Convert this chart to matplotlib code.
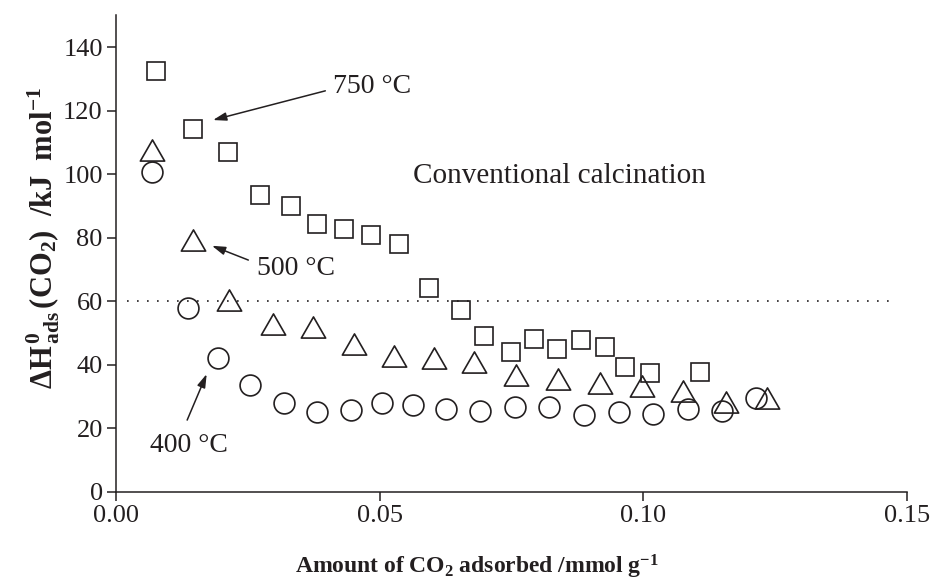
import numpy as np
import matplotlib
matplotlib.use('Agg')
import matplotlib.pyplot as plt
from matplotlib.path import Path

plt.rcParams['font.family'] = ['Liberation Serif', 'DejaVu Serif']
plt.rcParams['mathtext.fontset'] = 'custom'
plt.rcParams['mathtext.rm'] = 'Liberation Serif'
plt.rcParams['mathtext.it'] = 'Liberation Serif:italic'
plt.rcParams['mathtext.bf'] = 'Liberation Serif:bold'

# 750 C (squares)
x_750 = [0.0076, 0.0147, 0.0213, 0.0274, 0.0332, 0.0381, 0.0433, 0.0483, 0.0537, 0.0593,
         0.0654, 0.0698, 0.0749, 0.0792, 0.0837, 0.0881, 0.0927, 0.0965, 0.1013, 0.1107]
y_750 = [132.5, 114.1, 106.8, 93.3, 90.0, 84.3, 82.7, 80.7, 77.9, 64.2,
         57.2, 49.0, 43.8, 47.9, 44.8, 47.6, 45.6, 39.3, 37.2, 37.7]

# 500 C (triangles)
x_500 = [0.0068, 0.0147, 0.0215, 0.0297, 0.0374, 0.0452, 0.0528, 0.0604,
         0.0679, 0.0758, 0.0838, 0.0917, 0.0997, 0.1076, 0.1156, 0.1235]
y_500 = [107.6, 79.1, 60.3, 52.9, 51.8, 46.6, 42.8, 42.0,
         40.9, 36.8, 35.4, 34.1, 33.3, 31.8, 28.1, 29.4]

# 400 C (circles)
x_400 = [0.0068, 0.0137, 0.0194, 0.0254, 0.0318, 0.0381, 0.0445, 0.0505, 0.0564, 0.0626,
         0.0691, 0.0756, 0.0822, 0.0887, 0.0953, 0.1019, 0.1084, 0.1150, 0.1214]
y_400 = [100.7, 57.7, 42.1, 33.4, 28.0, 24.9, 25.7, 27.8, 27.2, 25.9,
         25.4, 26.7, 26.5, 24.1, 25.1, 24.4, 25.9, 25.3, 29.5]

threshold = 60
x_ticks = [0.00, 0.05, 0.10, 0.15]
y_ticks = [0, 20, 40, 60, 80, 100, 120, 140]

ink = '#231f20'

fig = plt.figure(figsize=(9.36, 5.85), dpi=100)
ax = fig.add_axes([0.1239, 0.1598, 0.8451, 0.8141])

# wide, slightly flat triangle like the original
tri = Path([(-1.15, -1), (1.15, -1), (0, 1), (-1.15, -1)], closed=True)

style = dict(ls='none', mfc='none', mec=ink, mew=1.2, clip_on=False, zorder=3)
ax.plot(x_750, y_750, marker='s', ms=13, **style)
ax.plot(x_500, y_500, marker=tri, ms=17.5, **style)
ax.plot(x_400, y_400, marker='o', ms=15, **style)

ax.axhline(threshold, xmin=0.002 / 0.15, xmax=0.147 / 0.15, color=ink,
           lw=1.2, ls=(0, (1, 5)), zorder=1)

ax.set_xlim(0, 0.15)
ax.set_ylim(0, 150)
ax.set_xticks(x_ticks)
ax.set_xticklabels(['%.2f' % v for v in x_ticks])
ax.set_yticks(y_ticks)

for s in ['top', 'right']:
    ax.spines[s].set_visible(False)
for s in ['left', 'bottom']:
    ax.spines[s].set_linewidth(1.1)
    ax.spines[s].set_color(ink)
ax.tick_params(direction='out', length=6.5, width=1.1, labelsize=19, pad=3,
               colors=ink)

ax.set_ylabel(r'$\mathbf{\Delta H^{\,0}_{\,ads}\,(CO_{2})\ \ /kJ\ \ mol^{-1}}$',
              fontsize=22, color=ink)
ax.yaxis.set_label_coords(-0.068, 0.533)
ax.set_xlabel(r'$\mathbf{Amount\ of\ CO_{2}\ adsorbed\ /mmol\ g^{-1}}$',
              fontsize=17, color=ink, va='baseline')
ax.xaxis.set_label_coords(0.456, -0.172)

# labels and arrows
ax.text(0.0412, 125.4, '750 °C', fontsize=20, color=ink, va='baseline')
ax.text(0.0268, 68.2, '500 °C', fontsize=20, color=ink, va='baseline')
ax.text(0.0065, 12.5, '400 °C', fontsize=20, color=ink, va='baseline')
ax.text(0.0564, 97.1, 'Conventional calcination', fontsize=21, color=ink,
        va='baseline')

arrow = dict(arrowstyle='-|>,head_length=0.8,head_width=0.25', lw=1.1,
             color=ink, shrinkA=0, shrinkB=0, mutation_scale=10)
ax.annotate('', xy=(0.0184, 117.0), xytext=(0.0397, 126.2), arrowprops=arrow)
ax.annotate('', xy=(0.0182, 77.4), xytext=(0.0251, 72.9), arrowprops=arrow)
ax.annotate('', xy=(0.0172, 37.0), xytext=(0.0135, 22.5), arrowprops=arrow)

fig.savefig('out.png', dpi=100)
